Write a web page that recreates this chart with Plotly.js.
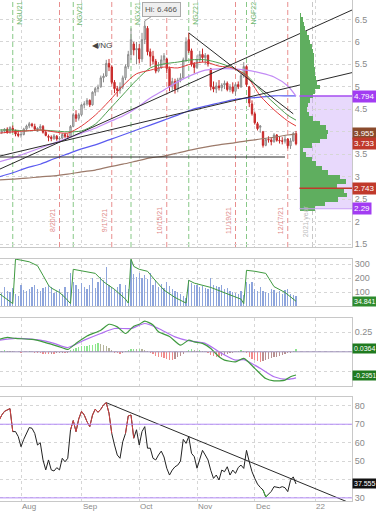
<!DOCTYPE html>
<html><head><meta charset="utf-8">
<script src="https://cdn.plot.ly/plotly-3.0.1.min.js"></script>
<style>html,body{margin:0;padding:0;background:#fff}#chart{width:376px;height:512px}</style>
</head><body><div id="chart"></div><script>
// ---------- calendar (trading days) ----------
const holidays = ['2021-09-06','2021-11-25','2021-12-24','2022-01-17'];
function buildCalendar(start, end){
  const out=[]; let d=new Date(start+'T00:00:00Z'); const e=new Date(end+'T00:00:00Z');
  while(d<=e){ const wd=d.getUTCDay(); const s=d.toISOString().slice(0,10);
    if(wd!==0&&wd!==6&&!holidays.includes(s)) out.push(s);
    d=new Date(d.getTime()+86400000);}
  return out;
}
const calendar = buildCalendar('2021-07-21','2022-01-31');
const BASE = calendar.indexOf('2021-08-02');
const ix = d => calendar.indexOf(d) - BASE;
const dates = calendar.slice(0, calendar.indexOf('2021-12-22')+1);

// ---------- price candles (/NG) ----------
const open = [3.96,3.99,4.01,4.06,3.98,4.08,4.03,3.95,
 3.93,3.94,4.06,4.13,4.17,4.12,4.05,4.08,4.12,3.99,
 3.90,3.88,3.85,3.90,3.84,3.86,3.94,3.90,3.88,4.12,4.38,4.30,
 4.38,4.60,4.62,4.70,4.60,4.88,4.96,5.00,5.20,5.24,5.52,5.44,5.10,4.96,4.92,5.00,5.20,5.45,5.72,5.95,5.82,
 5.85,5.62,6.05,6.30,5.78,5.68,5.57,5.35,5.42,5.60,5.62,5.41,5.00,5.12,4.95,5.15,5.20,5.60,6.05,5.80,5.50,
 5.43,5.60,5.72,5.65,5.70,5.40,5.00,4.95,5.02,4.98,5.04,5.08,4.94,5.00,4.90,5.05,5.00,5.25,5.45,5.00,4.62,
 4.40,4.18,4.10,4.00,3.70,3.83,3.82,3.78,3.93,3.81,3.80,3.79,3.84,3.69,3.80,3.96];
const high = [4.02,4.06,4.08,4.10,4.12,4.14,4.05,4.00,
 4.00,4.09,4.16,4.22,4.20,4.18,4.10,4.17,4.15,4.02,
 3.94,3.92,3.95,3.93,3.90,3.97,3.98,3.96,4.15,4.42,4.48,4.42,
 4.62,4.68,4.75,4.72,4.90,5.00,5.05,5.25,5.30,5.60,5.62,5.48,5.15,5.02,5.10,5.25,5.50,5.80,6.30,6.00,6.00,
 5.95,6.20,6.466,6.35,5.85,5.80,5.62,5.55,5.70,5.75,5.65,5.45,5.20,5.18,5.20,5.30,5.65,6.10,6.20,5.85,5.55,
 5.70,5.80,5.85,5.75,5.72,5.42,5.12,5.10,5.15,5.08,5.14,5.12,5.06,5.10,5.08,5.12,5.30,5.55,5.48,5.02,4.70,
 4.45,4.22,4.15,4.02,3.86,3.90,3.88,3.97,3.95,3.90,3.88,3.92,3.86,3.86,4.00,4.02];
const low = [3.90,3.95,3.97,3.96,3.96,3.98,3.90,3.88,
 3.87,3.92,4.02,4.08,4.10,4.02,4.00,4.03,3.96,3.90,
 3.79,3.79,3.82,3.80,3.81,3.84,3.86,3.85,3.87,4.10,4.22,4.25,
 4.35,4.52,4.58,4.55,4.58,4.80,4.88,4.98,5.10,5.22,5.35,5.06,4.86,4.78,4.85,4.95,5.15,5.40,5.60,5.70,5.50,
 5.52,5.55,5.95,5.70,5.45,5.50,5.30,5.32,5.40,5.48,5.30,4.90,4.90,4.85,4.88,5.10,5.18,5.55,5.75,5.45,5.30,
 5.40,5.55,5.55,5.50,5.45,4.92,4.88,4.86,4.92,4.90,4.95,4.90,4.88,4.85,4.80,4.95,4.98,5.20,5.00,4.55,4.36,
 4.16,4.03,3.98,3.65,3.68,3.76,3.70,3.76,3.78,3.74,3.72,3.74,3.63,3.62,3.78,3.70];
const close = [3.99,4.01,4.06,3.98,4.10,4.04,3.95,3.92,
 3.94,4.06,4.13,4.18,4.14,4.06,4.08,4.12,3.99,3.92,
 3.88,3.85,3.91,3.84,3.85,3.94,3.90,3.88,4.12,4.38,4.30,4.38,
 4.60,4.62,4.70,4.60,4.88,4.96,4.98,5.20,5.24,5.52,5.44,5.10,4.96,4.92,5.00,5.20,5.45,5.72,6.05,5.82,5.85,
 5.62,6.05,6.35,5.78,5.68,5.57,5.35,5.42,5.60,5.69,5.41,5.00,5.12,4.95,5.15,5.20,5.60,6.00,5.80,5.50,5.43,
 5.60,5.72,5.65,5.70,5.51,5.00,4.95,5.02,4.98,5.04,5.08,4.94,5.00,4.90,5.05,5.00,5.25,5.45,5.05,4.64,4.40,
 4.20,4.07,4.13,3.70,3.83,3.82,3.78,3.93,3.81,3.80,3.79,3.84,3.69,3.80,3.96,3.733];

// ---------- overlays (moving averages, sampled weekly) ----------
const maDates = ['2021-07-21','2021-07-28','2021-08-04','2021-08-11','2021-08-18','2021-08-25','2021-09-01','2021-09-09',
 '2021-09-16','2021-09-23','2021-09-30','2021-10-07','2021-10-14','2021-10-21','2021-10-28','2021-11-04','2021-11-11',
 '2021-11-18','2021-11-26','2021-12-03','2021-12-10','2021-12-17','2021-12-22'];
const maRed      = [3.97,4.00,4.02,4.04,4.00,3.97,4.13,4.37,4.68,5.02,5.29,5.37,5.44,5.42,5.51,5.55,5.46,5.42,5.24,4.80,4.49,4.24,4.13];
const maGreen    = [4.04,4.04,4.02,4.04,4.02,4.00,4.02,4.17,4.49,4.82,5.15,5.42,5.51,5.55,5.60,5.60,5.53,5.42,5.26,4.93,4.64,4.37,4.26];
const maLavender = [3.33,3.42,3.53,3.64,3.75,3.86,3.97,4.08,4.22,4.35,4.53,4.75,4.93,5.11,5.26,5.37,5.40,5.40,5.37,5.31,5.22,5.02,4.794];
const maBlue     = [3.00,3.09,3.20,3.28,3.40,3.51,3.62,3.71,3.82,3.93,4.04,4.15,4.26,4.37,4.49,4.57,4.64,4.71,4.75,4.77,4.80,4.80,4.80];
const maBrown    = [2.93,2.95,2.97,3.00,3.02,3.06,3.11,3.15,3.22,3.28,3.35,3.42,3.46,3.53,3.60,3.66,3.71,3.75,3.80,3.84,3.88,3.93,3.955];

// trend lines: [startDate, startPrice, endDate, endPrice]
const trendLines = [
 ['2021-07-21',3.163,'2022-01-24',6.725],
 ['2021-07-21',3.457,'2022-01-24',5.325],
 ['2021-10-27',6.20,'2021-12-21',4.40],
 ['2021-07-21',3.44,'2021-12-16',3.44]
];

// volume by price (2021)
const vbpPrice = [2.3,2.4,2.5,2.6,2.7,2.8,2.9,3.0,3.1,3.2,3.3,3.4,3.5,3.6,3.7,3.8,3.9,4.0,4.1,4.2,4.3,4.4,4.5,4.6,4.7,4.8,4.9,5.0,5.1,5.2,5.3,5.4,5.5,5.6,5.7,5.8,5.9,6.0,6.1,6.2,6.3,6.4,6.5,6.6];
const vbpVolume = [15,25,38,47,44,37,46,40,28,22,16,12,6,3,12,20,27,28,26,20,13,9,7,8,10,13,15,20,17,16,15,15,14,14,14,13,12,10,9,7,5,4,3,1];

// ---------- volume + open interest ----------
const volume = [120,95,140,110,100,130,85,75,
 150,115,105,125,140,155,120,110,130,135,
 150,135,95,110,120,85,140,100,235,170,150,125,
 165,140,120,150,200,130,175,210,190,280,150,140,120,135,160,100,155,125,330,230,210,
 240,200,220,195,240,150,185,140,160,130,175,145,120,110,100,90,75,60,185,165,150,
 155,140,145,130,120,200,150,145,135,150,120,130,110,100,95,85,110,80,170,160,170,
 125,105,140,110,100,95,120,115,95,110,90,115,120,85,80,75];
const oiDates = ['2021-07-21','2021-07-27','2021-07-28','2021-07-29','2021-07-30','2021-08-02','2021-08-05','2021-08-10','2021-08-12',
 '2021-08-16','2021-08-17','2021-08-20','2021-08-24','2021-08-26','2021-08-27','2021-09-02','2021-09-09','2021-09-14','2021-09-20',
 '2021-09-24','2021-09-27','2021-09-28','2021-09-29','2021-10-01','2021-10-06','2021-10-11','2021-10-14','2021-10-20','2021-10-26',
 '2021-10-27','2021-10-29','2021-11-08','2021-11-15','2021-11-23','2021-11-24','2021-11-26','2021-12-01','2021-12-07','2021-12-10',
 '2021-12-16','2021-12-22'];
const oiValues = [91,30,18,337,332,330,318,290,221,150,130,98,62,18,264,250,235,175,120,50,22,338,285,264,250,180,115,62,22,
 185,165,134,98,50,18,257,250,235,140,98,34.841];

// ---------- MACD ----------
const macdDates = ['2021-07-21','2021-07-26','2021-07-29','2021-08-06','2021-08-12','2021-08-18','2021-08-23','2021-08-25','2021-08-30',
 '2021-09-03','2021-09-13','2021-09-16','2021-09-21','2021-09-24','2021-09-29','2021-10-01','2021-10-05','2021-10-08','2021-10-12',
 '2021-10-18','2021-10-22','2021-10-27','2021-10-29','2021-11-03','2021-11-08','2021-11-11','2021-11-15','2021-11-19','2021-11-24',
 '2021-12-01','2021-12-07','2021-12-10','2021-12-16','2021-12-20','2021-12-22'];
const macdValues = [0.157,0.183,0.17,0.157,0.127,0.085,0.051,0.03,0.107,0.2,0.275,0.35,0.317,0.233,0.326,0.35,0.39,0.34,0.254,
 0.195,0.085,0.148,0.127,0.107,0.043,-0.063,-0.105,-0.127,-0.084,-0.21,-0.34,-0.37,-0.36,-0.317,-0.2951];
const signalDates = ['2021-07-21','2021-07-29','2021-08-11','2021-08-18','2021-08-25','2021-09-02','2021-09-13','2021-09-20','2021-09-28',
 '2021-10-05','2021-10-12','2021-10-20','2021-10-27','2021-11-04','2021-11-11','2021-11-19','2021-11-24','2021-12-03','2021-12-10',
 '2021-12-17','2021-12-22'];
const signalValues = [0.148,0.17,0.148,0.107,0.055,0.148,0.233,0.296,0.296,0.36,0.296,0.19,0.14,0.107,0.0,-0.105,-0.1,-0.21,-0.317,-0.35,-0.3315];
const histValues = [0.01,0.015,0.02,0.015,0.01,0.005,0.0,-0.005,
 -0.01,-0.005,0.0,0.005,0.0,-0.01,-0.015,-0.02,-0.025,-0.03,
 -0.03,-0.025,-0.03,-0.02,-0.015,-0.01,-0.015,-0.01,0.02,0.04,0.05,0.06,
 0.07,0.07,0.08,0.085,0.09,0.1,0.11,0.1,0.09,0.07,0.05,0.02,-0.01,-0.02,-0.03,-0.01,0.01,0.02,0.03,0.04,0.03,
 0.04,0.03,0.02,0.01,-0.01,-0.03,-0.05,-0.06,-0.07,-0.08,-0.09,-0.1,-0.1,-0.09,-0.07,-0.05,-0.03,0.0,0.02,0.03,0.02,
 0.01,0.02,0.01,0.0,-0.02,-0.04,-0.05,-0.06,-0.06,-0.05,-0.04,-0.03,-0.02,-0.01,-0.005,0.01,0.02,0.01,-0.02,-0.06,-0.09,
 -0.11,-0.12,-0.13,-0.12,-0.1,-0.09,-0.08,-0.07,-0.06,-0.05,-0.04,-0.03,-0.02,-0.01,0.01,0.0364];

// ---------- RSI ----------
const rsiValues = [72,75,77,77.8,78.5,66,66,63.3,
 57.8,61.8,65,68.2,67.8,65,58.7,60,50.6,45.2,
 50.6,45.2,44.6,46.4,45.2,51.5,49.6,51.5,66.9,72,66,72.9,
 77,75,71.4,68.7,75,78.2,76.5,78.1,80.5,81.7,76,65,58.7,53.3,51.5,60.5,65,74.5,75,62.4,67,
 58.7,66,68.7,57,57,51.5,50.6,53.3,55.4,52.2,46.1,42.4,45.1,46.9,47.8,50,61.8,59.6,63.3,54.2,52.4,
 46.1,51.5,55.8,53.3,50.6,45,40.6,42.4,39.7,45.1,44.2,46.9,42.4,45.1,43.3,46.5,47.8,46,55.8,49.6,44.2,
 40.6,37.5,35.7,34.3,30.5,31.8,33.5,36.1,35.8,35.5,36.1,35.5,33.4,39.6,41.4,37.555];
const rsiTrend = ['2021-09-15',81.7,'2022-01-24',26.4];

// ---------- event markers ----------
const expiryDates = ['2021-07-28','2021-08-27','2021-09-28','2021-10-27','2021-11-26'];
const expiryLabels = ['NGU21','NGV21','NGX21','NGZ21','NGF22'];
const optionDates = ['2021-08-20','2021-09-17','2021-10-15','2021-11-19','2021-12-17'];
const optionLabels = ['8/20/21','9/17/21','10/15/21','11/19/21','12/17/21'];
const yearEnd = '2021-12-31';
const monthStarts = ['2021-08-02','2021-09-01','2021-10-01','2021-11-01','2021-12-01','2022-01-03'];
const monthLabels = ['Aug','Sep','Oct','Nov','Dec','22'];

// ---------- build ----------
const X = dates.map(ix);
const XR = [-7.64, 120.36];
const FONT = 'Liberation Sans, Arial, sans-serif';
const tickVals = monthStarts.map(ix);
const gridCol = '#d6d6d6';

function xax(extra){ return Object.assign({range:XR, tickvals:tickVals, showticklabels:false, showgrid:true, gridcolor:gridCol,
  griddash:'dot', zeroline:false, showline:true, linecolor:'#c8c8c8', mirror:true, ticks:''}, extra); }
function yax(extra){ return Object.assign({side:'right', showgrid:true, gridcolor:gridCol, griddash:'dot', zeroline:false,
  showline:true, linecolor:'#c8c8c8', mirror:true, ticks:'', tickfont:{size:9,color:'#8a8a8a',family:FONT}}, extra); }

const traces = [];
const vMax = Math.max(...vbpVolume);
traces.push({type:'bar', orientation:'h', y:vbpPrice, x:vbpVolume, width:0.1, xaxis:'x5', yaxis:'y',
  marker:{color:'#5fae5f', line:{width:0}}, hoverinfo:'skip'});
const maX = maDates.map(ix);
[[maBrown,'#9c7a6a',1.2],[maBlue,'#5b5bf0',1.2],[maLavender,'#c38cf5',1.2],[maGreen,'#4e9e4e',1],[maRed,'#e23b3b',1]].forEach(([v,c,w])=>{
  traces.push({type:'scatter', mode:'lines', x:maX, y:v, line:{color:c,width:w,shape:'spline',smoothing:0.8}, xaxis:'x', yaxis:'y', hoverinfo:'skip'});
});
trendLines.forEach(t=>traces.push({type:'scatter',mode:'lines',x:[ix(t[0]),ix(t[2])],y:[t[1],t[3]],line:{color:'#2a2a2a',width:1},xaxis:'x',yaxis:'y',hoverinfo:'skip'}));
traces.push({type:'candlestick', x:X, open:open, high:high, low:low, close:close, xaxis:'x', yaxis:'y',
  increasing:{line:{color:'#8c8c8c',width:1}, fillcolor:'#d9d9d9'},
  decreasing:{line:{color:'#c62828',width:1}, fillcolor:'#d32f2f'}, whiskerwidth:0, hoverinfo:'skip'});
traces.push({type:'bar', x:X, y:volume, xaxis:'x2', yaxis:'y2', marker:{color:'#8ea5dc'}, width:0.45, hoverinfo:'skip'});
traces.push({type:'scatter', mode:'lines', x:oiDates.map(ix), y:oiValues, xaxis:'x2', yaxis:'y2', line:{color:'#3f9a3f',width:1}, hoverinfo:'skip'});
const histCol = histValues.map((v,k)=>{ const p = k>0?histValues[k-1]:v;
  if(v>=0) return v>=p ? '#8ee68e' : '#b4b49a'; return v<=p ? '#f28b8b' : '#b89090'; });
traces.push({type:'bar', x:X, y:histValues, xaxis:'x3', yaxis:'y3', marker:{color:histCol}, width:0.45, hoverinfo:'skip'});
traces.push({type:'scatter', mode:'lines', x:signalDates.map(ix), y:signalValues, xaxis:'x3', yaxis:'y3', line:{color:'#b070f0',width:1.2,shape:'spline',smoothing:0.7}, hoverinfo:'skip'});
traces.push({type:'scatter', mode:'lines', x:macdDates.map(ix), y:macdValues, xaxis:'x3', yaxis:'y3', line:{color:'#3f9a3f',width:1.2,shape:'spline',smoothing:0.6}, hoverinfo:'skip'});
traces.push({type:'scatter', mode:'lines', x:[ix(rsiTrend[0]),ix(rsiTrend[2])], y:[rsiTrend[1],rsiTrend[3]], xaxis:'x4', yaxis:'y4', line:{color:'#2a2a2a',width:1}, hoverinfo:'skip'});
traces.push({type:'scatter', mode:'lines', x:X, y:rsiValues, xaxis:'x4', yaxis:'y4', line:{color:'#222',width:1}, hoverinfo:'skip'});
const keep = (cond)=> rsiValues.map((v,k)=> (cond(v) || (k>0&&cond(rsiValues[k-1])) || (k<rsiValues.length-1&&cond(rsiValues[k+1]))) ? v : null);
traces.push({type:'scatter', mode:'lines', x:X, y:keep(v=>v>=70), xaxis:'x4', yaxis:'y4', line:{color:'#d24040',width:1}, connectgaps:false, hoverinfo:'skip'});
traces.push({type:'scatter', mode:'lines', x:X, y:keep(v=>v<=31), xaxis:'x4', yaxis:'y4', line:{color:'#3fae3f',width:1}, connectgaps:false, hoverinfo:'skip'});

const shapes = [];
const vbpLeft = -(299.5/47.5)*vMax, vbpRight = (52.5/47.5)*vMax;
shapes.push({type:'rect', xref:'x5', yref:'y', x0:0, x1:vbpRight, y0:2.29, y1:4.794, fillcolor:'rgba(205,170,248,0.45)', line:{width:0}, layer:'below'});
shapes.push({type:'line', xref:'x5', yref:'y', x0:0, x1:vbpRight, y0:4.794, y1:4.794, line:{color:'#a64cf0',width:1.5}});
shapes.push({type:'line', xref:'x5', yref:'y', x0:0, x1:vbpRight, y0:2.29, y1:2.29, line:{color:'#c9a0f5',width:1}});
shapes.push({type:'line', xref:'x5', yref:'y', x0:0, x1:vbpRight, y0:2.743, y1:2.743, line:{color:'#c0392b',width:1.5}});
expiryDates.forEach(d=>shapes.push({type:'line', xref:'x', yref:'y domain', x0:ix(d), x1:ix(d), y0:0, y1:1, line:{color:'#86c886',width:1,dash:'5px,3px'}, layer:'below'}));
optionDates.forEach(d=>shapes.push({type:'line', xref:'x', yref:'y domain', x0:ix(d), x1:ix(d), y0:0, y1:1, line:{color:'#e88e8e',width:1,dash:'5px,3px'}, layer:'below'}));
shapes.push({type:'line', xref:'x', yref:'y domain', x0:ix(yearEnd), x1:ix(yearEnd), y0:0, y1:1, line:{color:'#c8c8c8',width:1,dash:'5px,3px'}, layer:'below'});
shapes.push({type:'line', xref:'x3 domain', yref:'y3', x0:0, x1:1, y0:0, y1:0, line:{color:'#9d90b8',width:1}});
[70,30].forEach(v=>shapes.push({type:'line', xref:'x4 domain', yref:'y4', x0:0, x1:1, y0:v, y1:v, line:{color:'#b58cf7',width:1}}));

const ann = [];
function tag(text, yref, y, bg, size){ ann.push({text:text, xref:'paper', x:1, xanchor:'left', xshift:0, yref:yref, y:y, yanchor:'middle', showarrow:false,
  bgcolor:bg, font:{size:size||8,color:'#fff',family:FONT}, borderpad:1}); }
tag('4.794','y',4.794,'#a23cf2');
tag('3.955','y',3.955,'#8a4a2c');
tag('3.733','y',3.733,'#c0392b');
tag('2.743','y',2.743,'#c0392b');
tag('2.29','y',2.29,'#a23cf2');
tag('34.841','y2',34.841,'#2e8b2e',7);
tag('0.0364','y3',0.0364,'#1f7a1f',7);
tag('-0.2951','y3',-0.2951,'#1f7a1f',6.5);
tag('37.555','y4',37.555,'#111',7);
ann.push({text:'Hi: 6.466', x:ix('2021-10-05'), y:6.466, xref:'x', yref:'y', showarrow:true, arrowhead:0, arrowwidth:1, arrowcolor:'#999',
  ax:17, ay:-11, bgcolor:'#efefef', bordercolor:'#aaa', borderwidth:1, borderpad:2, font:{size:8,color:'#555',family:FONT}});
ann.push({text:'◀/NG', xref:'paper', yref:'paper', x:90/352, y:1-45/501, xanchor:'left', yanchor:'middle', showarrow:false, font:{size:8,color:'#444',family:FONT}});
optionDates.forEach((d,k)=>ann.push({text:optionLabels[k], x:ix(d), y:2.02, xref:'x', yref:'y', xanchor:'right', xshift:-1, textangle:-90,
  showarrow:false, font:{size:7,color:'#e08888',family:FONT}}));
expiryDates.forEach((d,k)=>ann.push({text:expiryLabels[k], x:ix(d), y:1, xref:'x', yref:'paper', xanchor:'left', yanchor:'top', yshift:0, xshift:1, textangle:-90,
  showarrow:false, font:{size:7,color:'#70b870',family:FONT}}));
ann.push({text:'2021 year', x:ix(yearEnd), y:2.0, xref:'x', yref:'y', xanchor:'right', xshift:-1, textangle:-90, showarrow:false, font:{size:7,color:'#bdbdbd',family:FONT}});
monthStarts.forEach((d,k)=>ann.push({text:monthLabels[k], x:ix(d), y:0, xref:'x4', yref:'paper', xanchor:'left', yanchor:'top', xshift:0, yshift:0,
  showarrow:false, font:{size:8,color:'#8a8a8a',family:FONT}, borderpad:0}));

const layout = {
  width:376, height:512, margin:{l:0,r:24,t:0,b:11}, paper_bgcolor:'#fff', plot_bgcolor:'#fff', showlegend:false,
  font:{family:FONT,size:9,color:'#888'}, bargap:0, hovermode:false,
  xaxis: xax({anchor:'y', rangeslider:{visible:false}}),
  xaxis2: xax({anchor:'y2', matches:'x'}),
  xaxis3: xax({anchor:'y3', matches:'x'}),
  xaxis4: xax({anchor:'y4', matches:'x'}),
  xaxis5: {overlaying:'x', anchor:'y', range:[vbpLeft, vbpRight], visible:false, showgrid:false, zeroline:false},
  yaxis: yax({domain:[0.507,1], range:[1.44,6.93], tickvals:[1.5,2,2.5,3,3.5,4,4.5,5,5.5,6,6.5], ticktext:['1.5','2','2.5','3','3.5','','4.5','5','5.5','6','6.5']}),
  yaxis2: yax({domain:[0.389,0.483], range:[0,338], tickvals:[100,200,300]}),
  yaxis3: yax({domain:[0.2295,0.365], range:[-0.435,0.428], tickvals:[-0.25,0,0.25], ticktext:['','','0.25']}),
  yaxis4: yax({domain:[0,0.2076], range:[28.3,84.8], tickvals:[30,40,50,60,70,80], ticktext:['30','','50','60','70','80']}),
  shapes:shapes, annotations:ann
};
Plotly.newPlot('chart', traces, layout, {displayModeBar:false, staticPlot:true});
</script></body></html>
